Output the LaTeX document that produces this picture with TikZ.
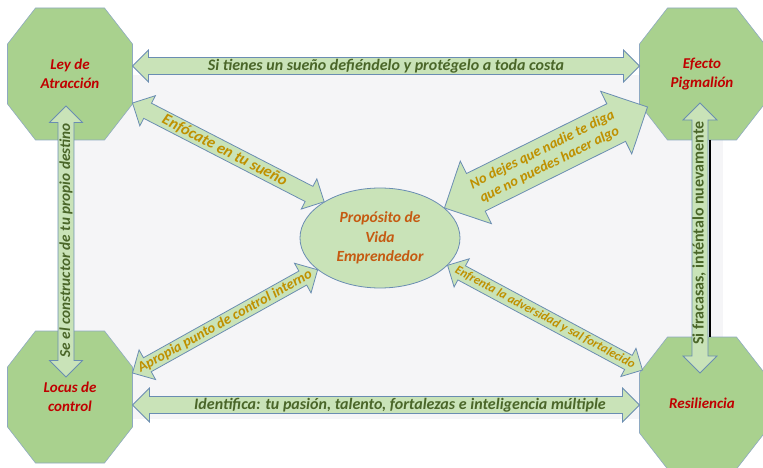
\documentclass[tikz,border=0pt]{standalone}
\usepackage{fontspec}
\setmainfont{Carlito}
\usepackage{tikz}
\usetikzlibrary{calc, shapes.geometric}

\definecolor{verdeocto}{HTML}{A9D18E}
\definecolor{verdeclaro}{HTML}{C9E3B8}
\definecolor{bordeocto}{HTML}{8EA9C1}
\definecolor{bordeazul}{HTML}{6A8DB2}
\definecolor{rojo}{HTML}{C00000}
\definecolor{naranja}{HTML}{C55A11}
\definecolor{verdeosc}{HTML}{4A6629}
\definecolor{dorado}{HTML}{BF9000}
\definecolor{fondo}{HTML}{F5F5F7}

% double headed block arrow: from, to, half body, head
\newcommand{\flecha}[4]{%
\coordinate (fp) at ($(#1)!#4!(#2)$);
\coordinate (fq) at ($(#2)!#4!(#1)$);
\draw[flecha] (#1) -- ($(fp)!#4!90:(#2)$) -- ($(fp)!#3!90:(#2)$) -- ($(fq)!#3!-90:(#1)$) -- ($(fq)!#4!-90:(#1)$) -- (#2) -- ($(fq)!#4!90:(#1)$) -- ($(fq)!#3!90:(#1)$) -- ($(fp)!#3!-90:(#2)$) -- ($(fp)!#4!-90:(#2)$) -- cycle;}

\begin{document}
\begin{tikzpicture}[x=1pt, y=-1pt,
flecha/.style={draw=bordeazul, fill=verdeclaro, line width=0.8pt},
octo/.style={draw=bordeocto, fill=verdeocto, line width=0.6pt},
octotexto/.style={minimum width=125pt, minimum height=132pt, inner sep=0pt, outer sep=0pt, align=center, text=rojo, font=\fontsize{15}{19}\selectfont\bfseries\itshape},
verde/.style={text=verdeosc, font=\fontsize{16}{18}\selectfont\bfseries\itshape, inner sep=0pt},
dorado/.style={text=dorado, font=\fontsize{14.5}{16.5}\selectfont\bfseries\itshape, inner sep=0pt}]
\useasboundingbox (0,0) rectangle (763,468);
\fill[fondo] (75,75) rectangle (723,419);
\foreach \n/\pos/\txt in {ley/{70,74}/{Ley de\\Atracción}, pig/{702,74}/{Efecto\\Pigmalión}, locus/{70,397}/{Locus de\\control}, res/{702,403}/{Resiliencia}}{
\draw[octo, shift={(\pos)}] (-62.5,-30) -- (-62.5,30) -- (-34.5,66) -- (34.5,66) -- (62.5,30) -- (62.5,-30) -- (34.5,-66) -- (-34.5,-66) -- cycle;
\node[octotexto] (\n) at (\pos) {\txt};
}
\node[ellipse, draw=bordeazul, fill=verdeclaro, line width=0.8pt, minimum width=160pt, minimum height=100pt, inner sep=0pt, align=center, text=naranja, font=\fontsize{15.5}{19.5}\selectfont\bfseries\itshape] (prop) at (380,238) {Propósito de\\Vida\\Emprendedor};
\draw[line width=1.5pt] ($(pig.south)+(8,0)$) -- ($(res.north)+(8,0)$);

\coordinate (t1) at ($(ley.east)+(0,-8)$);
\coordinate (t2) at ($(pig.west)+(0,-8)$);
\coordinate (b1) at ($(locus.east)+(0,8)$);
\coordinate (b2) at ($(res.west)+(0,2)$);
\coordinate (l1) at ($(locus.north)+(-4,46)$);
\coordinate (l2) at ($(ley.south)+(-4,-34)$);
\coordinate (r1) at ($(res.north)+(-2,36)$);
\coordinate (r2) at ($(pig.south)+(-2,-37)$);
\coordinate (d1) at ($(ley.east)+(0,29)$);
\coordinate (d2) at ($(pig.west)+(8,33)$);
\coordinate (d3) at ($(locus.east)+(0,-24)$);
\coordinate (d4) at ($(res.west)+(3,-33)$);

\flecha{t1}{t2}{8.5pt}{16pt}
\flecha{b1}{b2}{8.5pt}{17pt}
\flecha{l1}{l2}{8pt}{16.5pt}
\flecha{r1}{r2}{8pt}{17pt}
\flecha{d1}{prop.147}{8.5pt}{17pt}
\flecha{prop.25}{d2}{21pt}{35pt}
\flecha{d3}{prop.207}{8pt}{17pt}
\flecha{prop.338}{d4}{8pt}{16pt}

\path (t1) -- (t2) node[midway, verde] {Si tienes un sueño defiéndelo y protégelo a toda costa};
\path (b1) -- (b2) node[midway, verde, xshift=14pt] {Identifica: tu pasión, talento, fortalezas e inteligencia múltiple};
\path (l1) -- (l2) node[midway, sloped, verde, xshift=1pt, font=\fontsize{15.2}{17}\selectfont\bfseries\itshape] {Se el constructor de tu propio destino};
\path (r1) -- (r2) node[midway, sloped, verde, yshift=1pt, xshift=5pt, font=\fontsize{16}{18}\selectfont\bfseries] {Si fracasas, inténtalo nuevamente};
\path (d1) -- (prop.147) node[midway, sloped, dorado, xshift=-4pt, font=\fontsize{16}{18}\selectfont\bfseries\itshape] {Enfócate en tu sueño};
\path (prop.25) -- (d2) node[midway, sloped, dorado, align=center] {No dejes que nadie te diga\\que no puedes hacer algo};
\path (d3) -- (prop.207) node[midway, sloped, dorado] {Apropia punto de control interno};
\path (prop.338) -- (d4) node[midway, sloped, dorado, font=\fontsize{12.5}{14}\selectfont\bfseries\itshape] {Enfrenta la adversidad y sal fortalecido};
\end{tikzpicture}
\end{document}
